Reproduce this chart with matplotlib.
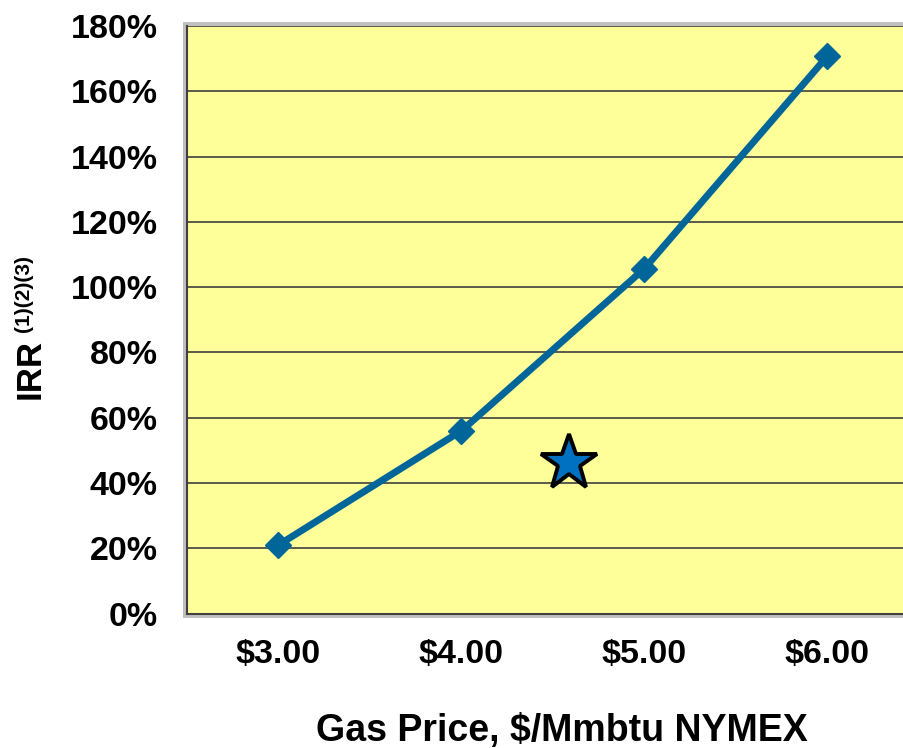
import matplotlib.pyplot as plt
from matplotlib.patches import Rectangle

# Data
prices = ["$3.00", "$4.00", "$5.00", "$6.00"]
irr = [0.21, 0.56, 1.057, 1.708]
star_pos = 1.59   # between $4.00 and $5.00
star_irr = 0.46
y_ticks = [0, 0.2, 0.4, 0.6, 0.8, 1.0, 1.2, 1.4, 1.6, 1.8]

plt.rcParams['font.family'] = ['Liberation Sans', 'DejaVu Sans']
plt.rcParams['font.weight'] = 'bold'

W, H = 904, 748
fig = plt.figure(figsize=(W / 100, H / 100), dpi=100)
left, right, top, bottom = 187, 919, 26, 613.5
ax = fig.add_axes([left / W, 1 - bottom / H, (right - left) / W, (bottom - top) / H])

# gray shadow frame behind plot area
fig.patches.append(Rectangle(((left - 4) / W, 1 - (bottom + 4) / H), (right - left + 4) / W,
                             (bottom - top + 8) / H, transform=fig.transFigure,
                             facecolor='#c0c0c0', edgecolor='none', zorder=-1))

ax.set_facecolor('#ffff99')
xs = list(range(len(prices)))
ax.plot(xs, irr, color='#006699', lw=5, marker='D', markersize=13, zorder=3)
ax.plot([star_pos], [star_irr], marker='*', markersize=42, color='#0070c0',
        markeredgecolor='black', markeredgewidth=2.8, zorder=4)

ax.set_xlim(-0.5, 3.5)
ax.set_ylim(0, 1.8)
ax.set_yticks(y_ticks)
ax.set_yticklabels([f"{int(round(v * 100))}%" for v in y_ticks])
ax.set_xticks(xs)
ax.set_xticklabels(prices)
ax.tick_params(length=0, labelsize=24.5)
ax.tick_params(axis='y', pad=21)
ax.tick_params(axis='x', pad=18)
ax.grid(axis='y', color='#404040', lw=1.2)
ax.set_axisbelow(True)

for s in ['top', 'right']:
    ax.spines[s].set_visible(False)
for s in ['left', 'bottom']:
    ax.spines[s].set_color('#404040')
    ax.spines[s].set_linewidth(1.5)

fig.text(562 / W, 1 - 741 / H, "Gas Price, $/Mmbtu NYMEX", ha='center', va='baseline',
         fontsize=27, fontweight='bold')
fig.text(30 / W, 1 - 369 / H, "IRR", rotation=90, ha='center', va='center',
         fontsize=25, fontweight='bold')
fig.text(24 / W, 1 - 294 / H, "(1)(2)(3)", rotation=90, ha='center', va='center',
         fontsize=15, fontweight='bold')

fig.savefig('out.png', dpi=100)
